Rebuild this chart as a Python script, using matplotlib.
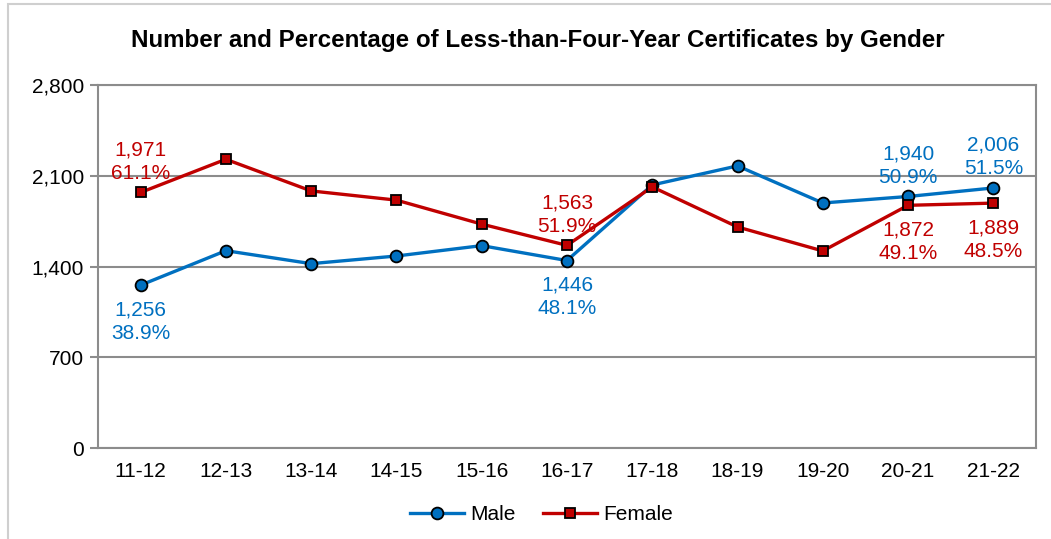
import matplotlib.pyplot as plt
from matplotlib.patches import Rectangle

plt.rcParams['font.family'] = ['Liberation Sans', 'DejaVu Sans']

# Data
years = ['11-12', '12-13', '13-14', '14-15', '15-16', '16-17',
         '17-18', '18-19', '19-20', '20-21', '21-22']
male = [1256, 1522, 1422, 1481, 1561, 1446, 2029, 2176, 1890, 1940, 2006]
female = [1971, 2227, 1983, 1912, 1727, 1563, 2014, 1705, 1520, 1872, 1889]
male_pct = {0: '38.9%', 5: '48.1%', 9: '50.9%', 10: '51.5%'}
female_pct = {0: '61.1%', 5: '51.9%', 9: '49.1%', 10: '48.5%'}

BLUE = '#0070C0'
RED = '#C00000'
GRID = '#8C8C8C'

fig = plt.figure(figsize=(10.51, 5.39), dpi=100)
ax = fig.add_axes([0.0932, 0.1688, 0.8925, 0.6735])

x = list(range(len(years)))
ax.plot(x, male, color=BLUE, lw=2.4, marker='o', ms=8.5,
        mfc=BLUE, mec='black', mew=1.3, label='Male', zorder=3)
ax.plot(x, female, color=RED, lw=2.4, marker='s', ms=7.5,
        mfc=RED, mec='black', mew=1.3, label='Female', zorder=4)

# Data labels
def put_label(i, vals, pcts, color, above):
    txt = f'{vals[i]:,}\n{pcts[i]}'
    off = 7 if above else -11
    ax.annotate(txt, (i, vals[i]), xytext=(0, off), textcoords='offset points',
                ha='center', va='bottom' if above else 'top', color=color,
                fontsize=15, linespacing=1.3, zorder=5)

for i in male_pct:
    put_label(i, male, male_pct, BLUE, above=i >= 9)
for i in female_pct:
    put_label(i, female, female_pct, RED, above=i < 9)

ax.set_xlim(-0.5, len(years) - 0.5)
ax.set_ylim(0, 2800)
ax.set_yticks([0, 700, 1400, 2100, 2800])
ax.set_yticklabels(['0', '700', '1,400', '2,100', '2,800'])
ax.set_xticks(x)
ax.set_xticklabels(years)
ax.tick_params(axis='y', length=6, width=1.5, color=GRID, labelsize=15, pad=4)
ax.tick_params(axis='x', length=0, labelsize=15, pad=10)

ax.yaxis.grid(True, color=GRID, lw=1.5)
ax.set_axisbelow(True)
for s in ['left', 'bottom', 'right', 'top']:
    ax.spines[s].set_color(GRID)
    ax.spines[s].set_linewidth(1.5)

fig.text(0.512, 0.925, 'Number and Percentage of Less-than-Four-Year Certificates by Gender',
         ha='center', va='center', fontsize=17.4, fontweight='bold')

fig.legend(loc='center', bbox_to_anchor=(0.515, 0.045), ncol=2, frameon=False,
           fontsize=15, handlelength=2.6, columnspacing=1.3, handletextpad=0.3)

# outer chart border (only top and left edges fall inside the image)
fig.patches.append(Rectangle((0.0076, -0.02), 1.0, 1.0126, transform=fig.transFigure,
                             fill=False, edgecolor='#CFCFCF', lw=1.5))

fig.savefig('out.png', dpi=100)
